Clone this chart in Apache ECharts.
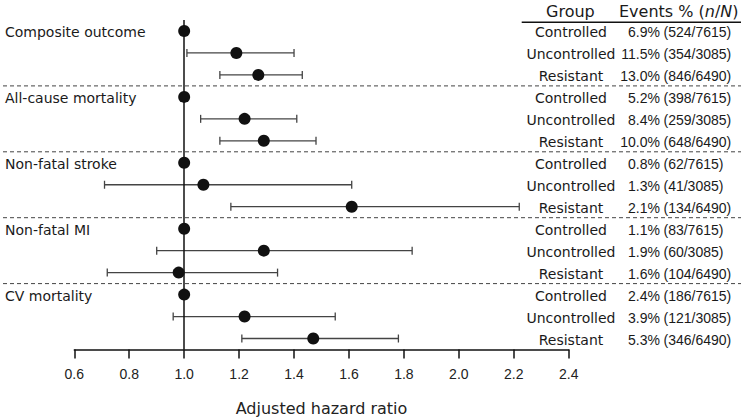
<!DOCTYPE html>
<html><head><meta charset="utf-8">
<script src="https://cdn.jsdelivr.net/npm/echarts@6/dist/echarts.min.js"></script>
<style>html,body{margin:0;padding:0;background:#fff}#c{width:750px;height:417px}</style>
</head><body><div id="c"></div>
<script>
var outcomes = ['Composite outcome','All-cause mortality','Non-fatal stroke','Non-fatal MI','CV mortality'];
var groups = ['Controlled','Uncontrolled','Resistant'];
var hr    = [1.00,1.19,1.27, 1.00,1.22,1.29, 1.00,1.07,1.61, 1.00,1.29,0.98, 1.00,1.22,1.47];
var lower = [null,1.01,1.13, null,1.06,1.13, null,0.71,1.17, null,0.90,0.72, null,0.96,1.21];
var upper = [null,1.40,1.43, null,1.41,1.48, null,1.61,2.22, null,1.83,1.34, null,1.55,1.78];
var eventPct = ['6.9%','11.5%','13.0%','5.2%','8.4%','10.0%','0.8%','1.3%','2.1%','1.1%','1.9%','1.6%','2.4%','3.9%','5.3%'];
var eventN = ['(524/7615)','(354/3085)','(846/6490)','(398/7615)','(259/3085)','(648/6490)','(62/7615)','(41/3085)','(134/6490)','(83/7615)','(60/3085)','(104/6490)','(186/7615)','(121/3085)','(346/6490)'];
var xTicks = [0.6,0.8,1.0,1.2,1.4,1.6,1.8,2.0,2.2,2.4];

var nRows = outcomes.length * groups.length;
var TXT = 'DejaVu Sans';
var NUM = 'Liberation Sans';

var points = [], bars = [], rows = [], seps = [];
for (var i = 0; i < nRows; i++) {
  points.push([hr[i], i]);
  if (lower[i] != null) bars.push([lower[i], upper[i], i]);
  rows.push([i]);
}
for (var k = 1; k < outcomes.length; k++) seps.push([k * groups.length - 0.5]);

var chart = echarts.init(document.getElementById('c'), null, {renderer: 'svg'});
chart.setOption({
  animation: false,
  backgroundColor: '#fff',
  grid: {left: 74.3, right: 181.3, top: 20, bottom: 67.5, containLabel: false, outerBoundsMode: 'none'},
  xAxis: {
    type: 'value', position: 'bottom', min: xTicks[0], max: xTicks[xTicks.length-1], interval: 0.2,
    axisLine: {show: true, onZero: false, lineStyle: {color: '#111', width: 1.5}},
    axisTick: {show: true, length: 9, lineStyle: {color: '#111', width: 1.5}},
    splitLine: {show: false},
    axisLabel: {fontFamily: NUM, fontSize: 14, color: '#222', margin: 17,
      formatter: function (v) { return v.toFixed(1); }},
    name: 'Adjusted hazard ratio', nameLocation: 'middle', nameGap: 51,
    nameTextStyle: {fontFamily: TXT, fontSize: 16, color: '#222'}
  },
  yAxis: {type: 'value', min: -0.5, max: nRows - 0.5, inverse: true, show: false},
  series: [
    {
      type: 'custom', clip: false, silent: true,
      data: seps,
      renderItem: function (params, api) {
        var y = api.coord([1, api.value(0)])[1];
        return {type: 'line', shape: {x1: 3, y1: y, x2: 741, y2: y},
          style: {stroke: '#444', lineWidth: 1, lineDash: [4, 3]}};
      }
    },
    {
      type: 'custom', clip: false, silent: true,
      data: bars,
      renderItem: function (params, api) {
        var p1 = api.coord([api.value(0), api.value(2)]);
        var p2 = api.coord([api.value(1), api.value(2)]);
        var h = 4;
        var st = {stroke: '#444', lineWidth: 1.3};
        return {type: 'group', children: [
          {type: 'line', shape: {x1: p1[0], y1: p1[1], x2: p2[0], y2: p2[1]}, style: st},
          {type: 'line', shape: {x1: p1[0], y1: p1[1]-h, x2: p1[0], y2: p1[1]+h}, style: st},
          {type: 'line', shape: {x1: p2[0], y1: p2[1]-h, x2: p2[0], y2: p2[1]+h}, style: st}
        ]};
      }
    },
    {
      type: 'scatter', data: points, symbol: 'circle', symbolSize: 12,
      itemStyle: {color: '#111', opacity: 1}, z: 5,
      markLine: {
        silent: true, symbol: 'none', label: {show: false},
        lineStyle: {color: '#111', width: 1.5, type: 'solid', opacity: 1},
        data: [{xAxis: 1}]
      }
    },
    {
      type: 'custom', clip: false, silent: true,
      data: rows,
      renderItem: function (params, api) {
        var i = api.value(0);
        var y = api.coord([1, i])[1] + 1.5;
        var ch = [
          {type: 'text', style: {x: 571, y: y, text: groups[i % groups.length], fontFamily: TXT, fontSize: 14,
            fill: '#1a1a1a', align: 'center', verticalAlign: 'middle'}},
          {type: 'text', style: {x: 660, y: y, text: eventPct[i], fontFamily: NUM, fontSize: 14,
            fill: '#1a1a1a', align: 'right', verticalAlign: 'middle'}},
          {type: 'text', style: {x: 663.5, y: y, text: eventN[i], fontFamily: NUM, fontSize: 14,
            fill: '#1a1a1a', align: 'left', verticalAlign: 'middle'}}
        ];
        if (i % groups.length === 0) {
          ch.push({type: 'text', style: {x: 5, y: y, text: outcomes[i / groups.length], fontFamily: TXT, fontSize: 14,
            fill: '#1a1a1a', align: 'left', verticalAlign: 'middle'}});
        }
        return {type: 'group', children: ch};
      }
    }
  ],
  graphic: [
    {type: 'text', left: 546, top: 3, style: {text: 'Group', fontFamily: TXT, fontSize: 16, fill: '#1a1a1a'}},
    {type: 'text', left: 619, top: 3, style: {
      text: 'Events % ({i|n}/{i|N})', fontFamily: TXT, fontSize: 16, fill: '#1a1a1a',
      rich: {i: {fontStyle: 'italic', fontFamily: TXT, fontSize: 16, fill: '#1a1a1a'}}}},
    {type: 'line', shape: {x1: 521.7, y1: 22.3, x2: 741, y2: 22.3}, style: {stroke: '#111', lineWidth: 1.5}}
  ]
});
</script></body></html>
